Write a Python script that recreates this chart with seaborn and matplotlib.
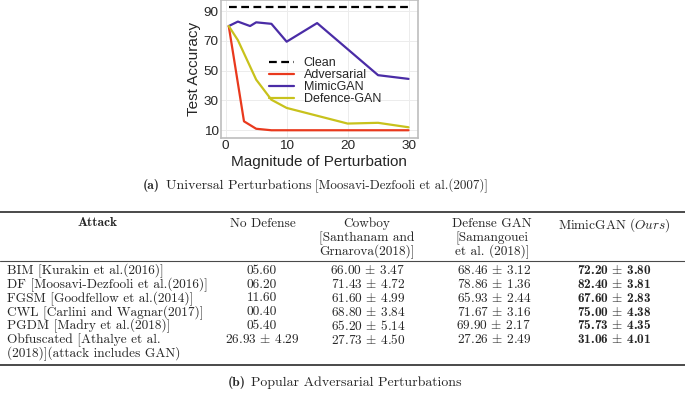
import numpy as np
import pandas as pd
import matplotlib
matplotlib.use("Agg")
import matplotlib.pyplot as plt
from matplotlib.lines import Line2D
import seaborn as sns

# ---- chart data ----
series_names = ['Clean', 'Adversarial', 'MimicGAN', 'Defence-GAN']
x_clean = [0.5, 30]
y_clean = [93, 93]
x_adv = [0.5, 3, 5, 7.5, 10, 15, 20, 25, 30]
y_adv = [80, 16, 11, 10, 10, 10, 10, 10, 10]
x_mimic = [0.5, 2, 4, 5, 7.5, 10, 15, 25, 30]
y_mimic = [80, 83, 80, 82.5, 81.5, 69.5, 82, 47, 44.5]
x_def = [0.5, 2, 5, 7.5, 10, 20, 25, 30]
y_def = [80, 70.5, 44, 30.5, 25, 14.5, 15, 12]
colors = ['black', '#e9391d', '#4a2ca6', '#c8c21c']

# ---- table data ----
attacks = ['BIM [Kurakin et al.(2016)]',
           'DF [Moosavi-Dezfooli et al.(2016)]',
           'FGSM [Goodfellow et al.(2014)]',
           'CWL [Carlini and Wagnar(2017)]',
           'PGDM [Madry et al.(2018)]',
           'Obfuscated [Athalye et al.']
attack_extra = '(2018)](attack includes GAN)'
nodef_mean = [5.60, 6.20, 11.60, 0.40, 5.40, 26.93]
nodef_std = [None, None, None, None, None, 4.29]
cowboy_mean = [66.00, 71.43, 61.60, 68.80, 65.20, 27.73]
cowboy_std = [3.47, 4.72, 4.99, 3.84, 5.14, 4.50]
dgan_mean = [68.46, 78.86, 65.93, 71.67, 69.90, 27.26]
dgan_std = [3.12, 1.36, 2.44, 3.16, 2.17, 2.49]
mimic_mean = [72.20, 82.40, 67.60, 75.00, 75.73, 31.06]
mimic_std = [3.80, 3.81, 2.83, 4.38, 4.35, 4.01]

W, H = 685, 394


def fx(px):
        return px / W


def fy(py):
        return 1 - py / H


#--------------------------------------------------------------------------------------
def draw_chart(fig):

        df = pd.concat([
                pd.DataFrame({'x': x_clean, 'y': y_clean, 'name': 'Clean'}),
                pd.DataFrame({'x': x_adv, 'y': y_adv, 'name': 'Adversarial'}),
                pd.DataFrame({'x': x_mimic, 'y': y_mimic, 'name': 'MimicGAN'}),
                pd.DataFrame({'x': x_def, 'y': y_def, 'name': 'Defence-GAN'}),
        ])
        ax = fig.add_axes([fx(220.7), fy(137.7), (417.7 - 220.7) / W, 137.7 / H])
        sns.lineplot(data=df, x='x', y='y', hue='name', style='name', hue_order=series_names,
                     style_order=series_names, palette=dict(zip(series_names, colors)),
                     dashes={'Clean': (3.5, 2), 'Adversarial': '', 'MimicGAN': '', 'Defence-GAN': ''},
                     linewidth=1.6, ax=ax, sort=False)
        ax.set_xlim(-0.82, 31.5)
        ax.set_ylim(5, 97.5)
        ax.set_xticks([0, 10, 20, 30])
        ax.set_yticks([10, 30, 50, 70, 90])
        ax.tick_params(labelsize=9.7, pad=1.5, length=0)
        ax.set_xlabel('Magnitude of Perturbation', fontsize=11)
        ax.set_ylabel('Test Accuracy', fontsize=11)
        ax.xaxis.set_label_coords(0.5, -0.125)
        ax.yaxis.set_label_coords(-0.1, 0.5)
        ax.grid(color='#ececec', linewidth=0.7)
        for s in ax.spines.values():
                s.set_color('#bdbdbd')
                s.set_linewidth(1.2)
        handles, labels = ax.get_legend_handles_labels()
        ax.legend(handles, labels, loc='upper left', bbox_to_anchor=(0.215, 0.63), frameon=False,
                  fontsize=9, borderpad=0, labelspacing=0.0, handlelength=2.0, handletextpad=0.75)


#--------------------------------------------------------------------------------------
def pm(m, s):
        if s is None:
                return '%05.2f' % m
        return r'%.2f $\pm$ %.2f' % (m, s)


def draw_table(fig):

        fs = 9.6
        rm = dict(fontfamily='cmr10', fontsize=fs, va='center_baseline')
        bf = dict(fontfamily='cmb10', fontsize=fs, va='center_baseline')
        # caption (a)
        fig.text(fx(142.5), fy(184), '(a)', **bf)
        fig.text(fx(166), fy(184), 'Universal Perturbations', fontfamily='cmr10', fontsize=10,
                 va='center_baseline')
        fig.text(fx(315), fy(184), '[Moosavi-Dezfooli et al.(2007)]', fontfamily='cmr10',
                 fontsize=9.4, va='center_baseline')

        # rules
        for y, lw in [(211.5, 1.4), (260.5, 0.8), (364.5, 1.4)]:
                fig.add_artist(Line2D([0, 1], [fy(y), fy(y)], color='#4a4a4a', linewidth=lw))

        # header
        fig.text(fx(98), fy(222), 'Attack', ha='center', **bf)
        fig.text(fx(263), fy(222), 'No Defense', ha='center', **rm)
        for i, t in enumerate(['Cowboy', '[Santhanam and', 'Grnarova(2018)]']):
                fig.text(fx(367), fy(222 + 14 * i), t, ha='center', **rm)
        for i, t in enumerate(['Defense GAN', '[Samangouei', 'et al. (2018)]']):
                fig.text(fx(492), fy(222 + 14 * i), t, ha='center', **rm)
        fig.text(fx(558), fy(222), r'MimicGAN $(\mathit{Ours})$', ha='left', **rm)

        # body
        row_y = [269.5, 283.2, 296.9, 310.6, 324.3, 338]
        for i, y in enumerate(row_y):
                fig.text(fx(7), fy(y), attacks[i], ha='left', **rm)
                fig.text(fx(262), fy(y), pm(nodef_mean[i], nodef_std[i]), ha='center', **rm)
                fig.text(fx(368), fy(y), pm(cowboy_mean[i], cowboy_std[i]), ha='center', **rm)
                fig.text(fx(494), fy(y), pm(dgan_mean[i], dgan_std[i]), ha='center', **rm)
                fig.text(fx(614), fy(y), pm(mimic_mean[i], mimic_std[i]), ha='center', **bf)
        fig.text(fx(7), fy(351.7), attack_extra, ha='left', **rm)

        # caption (b)
        fig.text(fx(228), fy(381), '(b)', **bf)
        fig.text(fx(251), fy(381), 'Popular Adversarial Perturbations', fontfamily='cmr10', fontsize=10,
                 va='center_baseline')


#--------------------------------------------------------------------------------------
def main():

        sns.set_theme(style='whitegrid')
        plt.rcParams['font.family'] = ['Liberation Sans', 'DejaVu Sans']
        plt.rcParams['mathtext.fontset'] = 'cm'
        plt.rcParams['axes.unicode_minus'] = False
        fig = plt.figure(figsize=(6.85, 3.94), dpi=100)
        draw_chart(fig)
        draw_table(fig)
        fig.savefig('out.png', dpi=100, facecolor='white')

if __name__ == '__main__':
        main()
